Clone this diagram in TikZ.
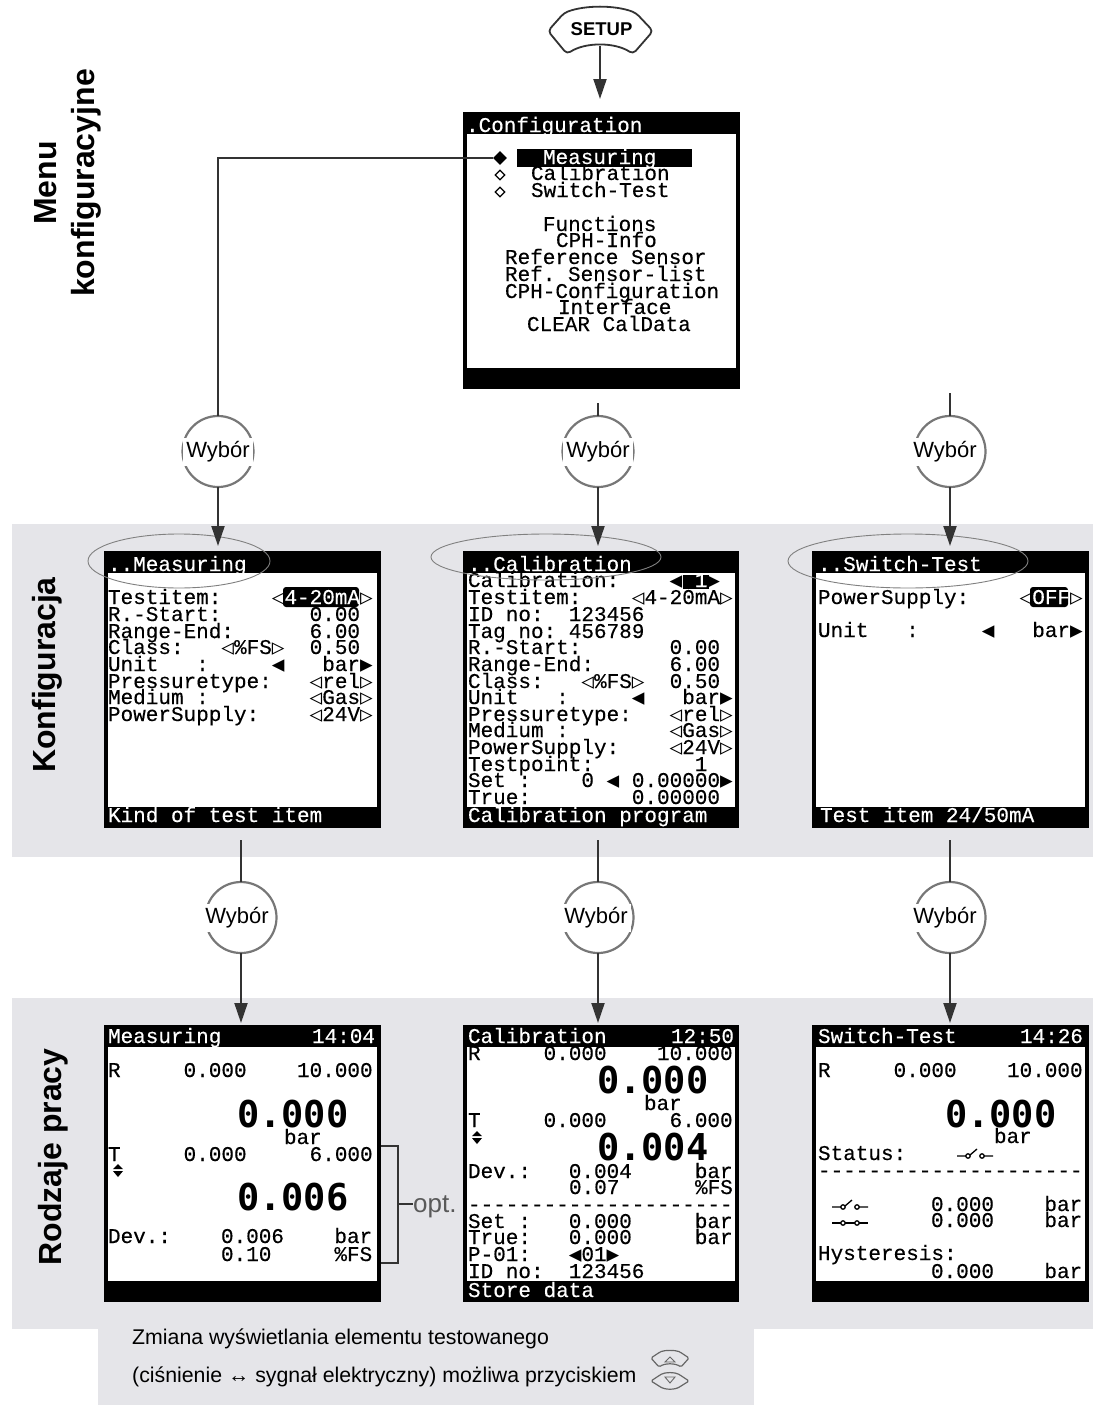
\documentclass[tikz,border=0pt]{standalone}
\usepackage{fontspec}
\usepackage{xcolor}
\usepackage{tikz}
\usetikzlibrary{arrows.meta,calc,shapes.geometric}
\setmainfont{Liberation Sans}
\newfontfamily\lcdfam{Liberation Mono}[FakeBold=0.35]
\newfontfamily\symfam{DejaVu Sans Mono}
\definecolor{bandgray}{HTML}{E5E5E9}
\definecolor{flowgray}{HTML}{333333}
\definecolor{ringgray}{HTML}{777777}
\newcommand{\tipL}{{\symfam ◀}}
\newcommand{\tipR}{{\symfam ▶}}
\newcommand{\tipLo}{{\symfam ◁}}
\newcommand{\tipRo}{{\symfam ▷}}
\newcommand{\updown}[2]{%
    \fill (#1-5,#2-2) -- (#1,#2-7) -- (#1+5,#2-2) -- cycle;
    \fill (#1-5,#2) -- (#1,#2+6) -- (#1+5,#2) -- cycle;}
\newcommand{\swopen}[2]{%
    \draw[line width=1.3pt] (#1,#2) -- (#1+9,#2) (#1+13,#2-1) -- (#1+20,#2-7) (#1+27,#2) -- (#1+36,#2);
    \draw[line width=1.3pt] (#1+11,#2) circle[radius=2.2] (#1+25,#2) circle[radius=2.2];}
\newcommand{\swclosed}[2]{%
    \draw[line width=1.3pt] (#1,#2) -- (#1+9,#2) (#1+13,#2) -- (#1+23,#2) (#1+27,#2) -- (#1+36,#2);
    \draw[line width=1.3pt] (#1+11,#2) circle[radius=2.2] (#1+25,#2) circle[radius=2.2];}

\begin{document}
\begin{tikzpicture}[x=1pt,y=-1pt,
    screen/.style={fill=black,anchor=north west,minimum width=276.5pt,minimum height=276.5pt,inner sep=0pt,outer sep=0pt},
    lcd/.style={font=\fontsize{21}{21}\lcdfam\selectfont,anchor=base west,inner sep=0pt,outer sep=0pt},
    lcdw/.style={lcd,text=white},
    bigd/.style={font=\fontsize{37}{36}\symfam\bfseries\selectfont,anchor=base west,inner sep=0pt,outer sep=0pt},
    selring/.style={circle,draw=ringgray,fill=white,line width=2.2pt,minimum size=71pt,inner sep=0pt,outer sep=0pt},
    sellabel/.style={fill=white,minimum width=70pt,minimum height=28pt,inner sep=0pt,font=\fontsize{22}{22}\selectfont},
    sidelabel/.style={rotate=90,align=center,font=\fontsize{32}{38}\bfseries\selectfont,inner sep=0pt},
    flowline/.style={draw=flowgray,line width=2pt},
    flowarrow/.style={flowline,-{Triangle[length=20pt,width=13pt]}},
    headring/.style={draw=gray,line width=0.9pt},
    keyicon/.style={draw=black!60,line width=1.2pt,rounded corners=1.5pt}]
    \useasboundingbox (0,0) rectangle (1093,1405);
    \fill[bandgray] (12,524) rectangle (1093,857);
    \fill[bandgray] (12,998) rectangle (1093,1329);
    \fill[bandgray] (98,1329) rectangle (754,1405);

    \foreach \nm/\xa/\ya in {cfg/463/112,meas/104/551,calib/462.5/551,swit/812/551,measb/104/1025,calb/462.5/1025,swb/812/1025} {
        \node[screen] (\nm) at (\xa,\ya) {};
        \fill[white] ($(\nm.north west)+(4,21.5)$) rectangle ($(\nm.south east)+(-4,-21)$);
    }

    \fill[black] (517,149) rectangle (692,167);
    \fill[black,rounded corners=3pt] (283,587) rectangle (359,607);
    \fill[black] (683,575) rectangle (709,589);
    \fill[black,rounded corners=3pt] (1030,587) rectangle (1068,607);

    \foreach \xa/\ya/\txt [count=\i] in {466/132/.Configuration,543/164/Measuring,108/571/..Measuring,468/571/..Calibration,818/571/..Switch-Test,108/822/Kind~of~test~item,468/822/Calibration~program,820/822/{Test~item~24/50mA},108/1043/Measuring,312/1043/14:04,468/1043/Calibration,671/1043/12:50,818/1043/Switch-Test,1020/1043/14:26,468/1297/Store~data}
        \node[lcdw] (head\i) at (\xa,\ya) {\txt};

    \foreach \xa/\ya/\txt in {531/180/Calibration,531/197/Switch-Test,543/231/Functions,556/247/CPH-Info,505/264/Reference~Sensor,505/281/Ref.~Sensor-list,505/298/CPH-Configuration,558/314/Interface,527/331/CLEAR~CalData}
        \node[lcd] (cfg\ya) at (\xa,\ya) {\txt};
    \node[diamond,fill=black,minimum size=14pt,inner sep=0pt] (dmdA) at (500,158) {};
    \node[diamond,draw=black,line width=1.3pt,minimum size=10pt,inner sep=0pt] (dmdB) at (500,175) {};
    \node[diamond,draw=black,line width=1.3pt,minimum size=10pt,inner sep=0pt] (dmdC) at (500,192) {};

    \foreach \ya/\txt in {604/{Testitem:~~~~\tipLo\textcolor{white}{4-20mA}\tipRo},621/{R.-Start:~~~~~~~0.00},638/{Range-End:~~~~~~6.00},654/{Class:~~~\tipLo\%FS\tipRo~~0.50},671/{Unit~~~:~~~~~\tipL~~~bar\tipR},688/{Pressuretype:~~~\tipLo rel\tipRo},704/{Medium~:~~~~~~~~\tipLo Gas\tipRo},721/{PowerSupply:~~~~\tipLo 24V\tipRo}}
        \node[lcd] (meas\ya) at (108,\ya) {\txt};

    \foreach \ya/\txt in {587/{Calibration:~~~~\tipL~\textcolor{white}{1}\tipR},604/{Testitem:~~~~\tipLo 4-20mA\tipRo},621/{ID~no:~~123456},638/{Tag~no:~456789},654/{R.-Start:~~~~~~~0.00},671/{Range-End:~~~~~~6.00},688/{Class:~~~\tipLo\%FS\tipRo~~0.50},704/{Unit~~~:~~~~~\tipL~~~bar\tipR},721/{Pressuretype:~~~\tipLo rel\tipRo},737/{Medium~:~~~~~~~~\tipLo Gas\tipRo},754/{PowerSupply:~~~~\tipLo 24V\tipRo},771/{Testpoint:~~~~~~~~1},787/{Set~:~~~~0~\tipL~0.00000\tipR},804/{True:~~~~~~~~0.00000}}
        \node[lcd] (calib\ya) at (468,\ya) {\txt};

    \foreach \ya/\txt in {604/{PowerSupply:~~~~\tipLo\textcolor{white}{OFF}\tipRo},637/{Unit~~~:~~~~~\tipL~~~bar\tipR}}
        \node[lcd] (swit\ya) at (818,\ya) {\txt};

    \foreach \xa/\ya/\txt in {108/1077/{R~~~~~0.000~~~~10.000},284/1144/bar,108/1161/{T~~~~~0.000~~~~~6.000},108/1243/{Dev.:},221/1243/{0.006~~~~bar},221/1261/{0.10~~~~~\%FS}}
        \node[lcd] (measb\ya\xa) at (\xa,\ya) {\txt};
    \node[bigd] (measbA) at (237,1127) {0.000};
    \node[bigd] (measbB) at (237,1210) {0.006};
    \updown{118}{1171}

    \foreach \xa/\ya/\txt in {468/1060/{R~~~~~0.000~~~~10.000},644/1110/bar,468/1127/{T~~~~~0.000~~~~~6.000},468/1178/{Dev.:~~~0.004~~~~~bar},569/1194/{0.07~~~~~~\%FS},468/1211/{---------------------},468/1228/{Set~:~~~0.000~~~~~bar},468/1244/{True:~~~0.000~~~~~bar},468/1261/{P-01:~~~\tipL 01\tipR},468/1278/{ID~no:~~123456}}
        \node[lcd] (calb\ya) at (\xa,\ya) {\txt};
    \node[bigd] (calbA) at (597,1093) {0.000};
    \node[bigd] (calbB) at (597,1160) {0.004};
    \updown{477}{1138}

    \foreach \xa/\ya/\txt in {818/1077/{R~~~~~0.000~~~~10.000},994/1143/bar,818/1160/{Status:},818/1177/{---------------------},931/1211/{0.000~~~~bar},931/1227/{0.000~~~~bar},818/1260/{Hysteresis:},931/1278/{0.000~~~~bar}}
        \node[lcd] (swb\ya) at (\xa,\ya) {\txt};
    \node[bigd] (swbA) at (945,1127) {0.000};
    \swopen{957}{1156}
    \swopen{832}{1207}
    \swclosed{832}{1223}

    \draw[headring] (179,561) ellipse[x radius=91,y radius=27];
    \draw[headring] (546,557) ellipse[x radius=115,y radius=23];
    \draw[headring] (908,561) ellipse[x radius=120,y radius=27];

    \foreach \nm/\xa/\ya/\lx in {wybA/218/451.5/218,wybB/598/451.5/598,wybC/950/451.5/945,wybD/241/917.5/237,wybE/598/917.5/596,wybF/950/917.5/945} {
        \node[selring] (\nm) at (\xa,\ya) {};
        \node[sellabel] (\nm lab) at (\lx,\ya) {Wybór};
    }

    \coordinate (cfgB) at (598,403);
    \coordinate (cfgC) at (950,393);
    \coordinate (measD) at (241,840);
    \coordinate (calibE) at (598,840);
    \coordinate (switF) at (950,840);
    \coordinate (setupB) at (600,46);

    \draw[flowline] (dmdA.west) -| (wybA.north);
    \draw[flowline] (cfgB) -- (wybB.north);
    \draw[flowline] (cfgC) -- (wybC.north);
    \draw[flowline] (measD) -- (wybD.north);
    \draw[flowline] (calibE) -- (wybE.north);
    \draw[flowline] (switF) -- (wybF.north);
    \draw[flowarrow,shorten >=5pt] (wybA.south) -- (wybA.south |- meas.north);
    \draw[flowarrow,shorten >=5pt] (wybB.south) -- (wybB.south |- calib.north);
    \draw[flowarrow,shorten >=5pt] (wybC.south) -- (wybC.south |- swit.north);
    \draw[flowarrow,shorten >=2pt] (wybD.south) -- (wybD.south |- measb.north);
    \draw[flowarrow,shorten >=2pt] (wybE.south) -- (wybE.south |- calb.north);
    \draw[flowarrow,shorten >=2pt] (wybF.south) -- (wybF.south |- swb.north);
    \draw[flowarrow,shorten >=13pt] (setupB) -- (setupB |- cfg.north);

    \draw[flowline,line width=1.8pt,rounded corners=4pt] (548,31) -- (564,13) .. controls (585,5) and (615,5) .. (636,13) -- (653,31) -- (633,54) .. controls (615,42) and (585,42) .. (567,54) -- cycle;
    \node[font=\fontsize{18.5}{18}\bfseries\selectfont,inner sep=0pt] (setup) at (601.5,29.5) {SETUP};

    \coordinate (brA) at (381,1146);
    \coordinate (brB) at (381,1263);
    \coordinate (brC) at (398,1204);
    \node[anchor=base west,inner sep=0pt,text=black!65,font=\fontsize{26}{26}\selectfont] (opt) at (413,1212) {opt.};
    \draw[flowline,line width=1.4pt] (brA) -- (brA -| brC) -- (brB -| brC) -- (brB);
    \draw[flowline,line width=1.4pt] (brC) -- (brC -| opt.west);

    \node[sidelabel] (menu) at (68,183) {Menu\\konfiguracyjne};
    \node[sidelabel] (konf) at (47,675) {Konfiguracja};
    \node[sidelabel] (rodz) at (53,1157) {Rodzaje pracy};

    \node[anchor=base west,inner sep=0pt,font=\fontsize{21.3}{21}\selectfont] (noteA) at (132,1344) {Zmiana wyświetlania elementu testowanego};
    \node[anchor=base west,inner sep=0pt,font=\fontsize{21.3}{21}\selectfont] (noteB) at (132,1382) {(ciśnienie ↔ sygnał elektryczny) możliwa przyciskiem};

    \draw[keyicon] (651,1358) -- (660,1352) .. controls (665,1350) and (675,1350) .. (680,1352) -- (689,1358) -- (681,1367) .. controls (675,1363) and (665,1363) .. (659,1367) -- cycle;
    \draw[keyicon] (651,1381) -- (660,1375) .. controls (665,1372) and (675,1372) .. (680,1375) -- (689,1381) -- (681,1386) .. controls (675,1390) and (665,1390) .. (659,1386) -- cycle;
    \draw[draw=black!60,line width=0.9pt] (665,1362) -- (670,1357) -- (675,1362) -- cycle;
    \draw[draw=black!60,line width=0.9pt] (665,1377) -- (670,1383) -- (675,1377) -- cycle;
\end{tikzpicture}
\end{document}
